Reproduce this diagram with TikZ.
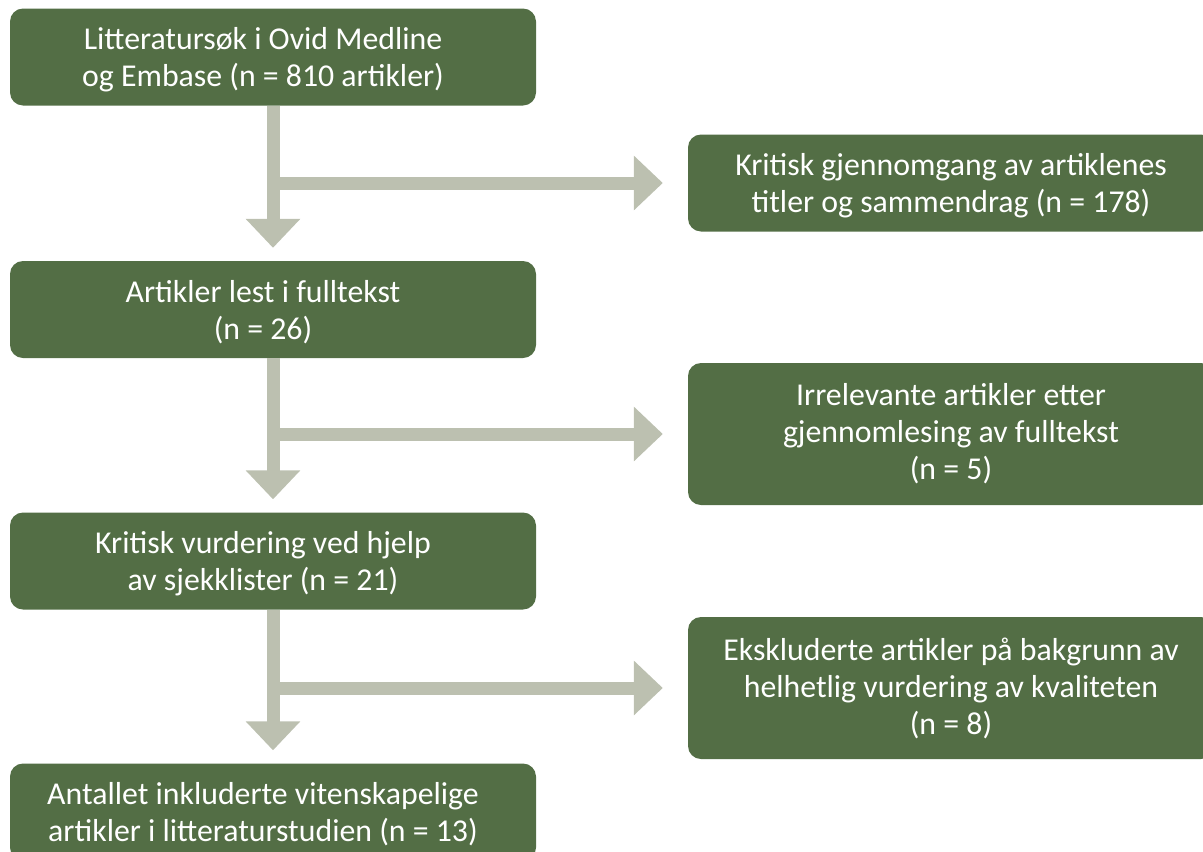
\documentclass[tikz,border=0pt]{standalone}
\usepackage{fontspec}
\setmainfont{Carlito}
\usetikzlibrary{arrows.meta}
\definecolor{boxgreen}{RGB}{83,110,69}
\definecolor{arrowgray}{RGB}{188,192,176}
\tikzset{
  flowbox/.style={fill=boxgreen, draw=none, rounded corners=13pt, minimum width=526pt,
    minimum height=97pt, inner sep=0pt},
  tallbox/.style={flowbox, minimum height=142pt},
  boxtext/.style={text=white, align=center, inner sep=0pt,
    font=\fontsize{31.8}{37}\selectfont},
  lefttext/.style={label={[boxtext, xshift=-10pt, yshift=-2.5pt]center:{#1}}},
  righttext/.style={label={[boxtext, yshift=-2.5pt]center:{#1}}},
  tallrighttext/.style={label={[boxtext]center:{#1}}},
  flowarrow/.style={draw=arrowgray, line width=13pt, line cap=butt,
    -{Triangle[length=29pt,width=53pt]}},
}
\begin{document}
\begin{tikzpicture}[x=1pt,y=-1pt]
\useasboundingbox (0,0) rectangle (1203,852);
\clip (0,0) rectangle (1203,852);
\node[flowbox, lefttext={Litteratursøk i Ovid Medline\\og Embase (n = 810 artikler)}] (l1) at (273,57) {};
\node[flowbox, lefttext={Artikler lest i fulltekst\\(n = 26)}] (l2) at (273,309.5) {};
\node[flowbox, lefttext={Kritisk vurdering ved hjelp\\av sjekklister (n = 21)}] (l3) at (273,561) {};
\node[flowbox, lefttext={Antallet inkluderte vitenskapelige\\artikler i litteraturstudien (n = 13)}] (l4) at (273,812) {};
\node[flowbox, righttext={Kritisk gjennomgang av artiklenes\\titler og sammendrag (n = 178)}] (r1) at (951,183) {};
\node[tallbox, tallrighttext={Irrelevante artikler etter\\gjennomlesing av fulltekst\\(n = 5)}] (r2) at (951,434) {};
\node[tallbox, tallrighttext={Ekskluderte artikler på bakgrunn av\\helhetlig vurdering av kvaliteten\\(n = 8)}] (r3) at (951,688) {};
\coordinate (b1) at (l1.south |- r1.west);
\coordinate (b2) at (l2.south |- r2.west);
\coordinate (b3) at (l3.south |- r3.west);
\draw[flowarrow, shorten >=13pt] (l1.south) -- (l2.north);
\draw[flowarrow, shorten >=25pt] (b1) -- (r1.west);
\draw[flowarrow, shorten >=13pt] (l2.south) -- (l3.north);
\draw[flowarrow, shorten >=25pt] (b2) -- (r2.west);
\draw[flowarrow, shorten >=13pt] (l3.south) -- (l4.north);
\draw[flowarrow, shorten >=25pt] (b3) -- (r3.west);
\end{tikzpicture}
\end{document}
